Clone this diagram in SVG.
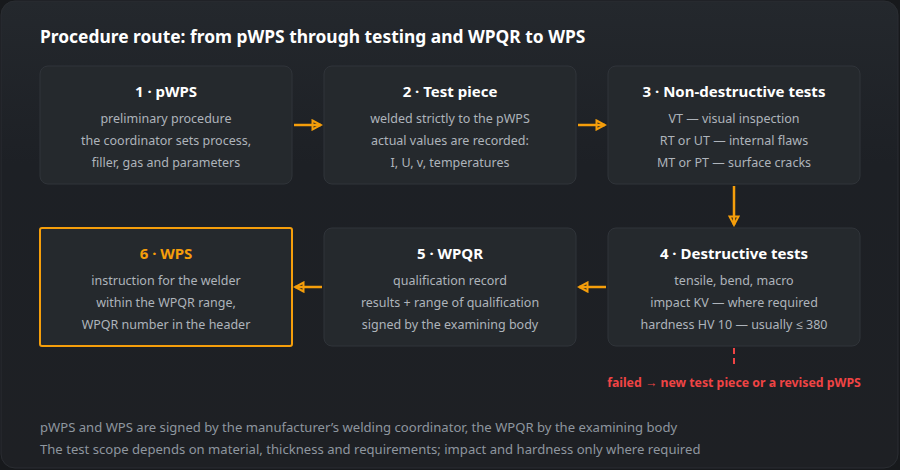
<svg xmlns="http://www.w3.org/2000/svg" width="900" height="470" viewBox="0 0 900 470">
<defs>
<linearGradient id="bg" x1="0" y1="0" x2="0" y2="1">
<stop offset="0" stop-color="#24282d"/>
<stop offset="0.35" stop-color="#1d2025"/>
<stop offset="1" stop-color="#1e2024"/>
</linearGradient>
<marker id="ah" viewBox="0 0 12 12" refX="10" refY="6" markerWidth="12" markerHeight="12" markerUnits="userSpaceOnUse" orient="auto">
<path d="M1.5,1.5 L10,6 L1.5,10.5 Z" fill="none" stroke="#f59e0b" stroke-width="2" stroke-linejoin="miter"/>
</marker>
<style>
.box{fill:#25292d;stroke:#30343a;stroke-width:1}
.hl{fill:#25292d;stroke:#f59e0b;stroke-width:2}
.t{font-family:"Noto Sans","Open Sans",sans-serif;font-size:15px;font-weight:bold;fill:#ffffff;text-anchor:middle}
.l{font-family:"Noto Sans","Open Sans",sans-serif;font-size:12.5px;fill:#aeb4bb;text-anchor:middle}
.c{stroke:#f59e0b;stroke-width:2.5;fill:none;marker-end:url(#ah)}
.f{font-family:"Noto Sans","Open Sans",sans-serif;font-size:13.1px;fill:#8e969f}
</style>
</defs>
<rect x="0" y="0" width="900" height="470" fill="#17191c"/>
<rect x="1" y="1" width="897" height="467" rx="14" fill="url(#bg)" stroke="#2a2d32"/>
<text x="40" y="43" font-family="Noto Sans, Open Sans, sans-serif" font-size="17.4" font-weight="bold" fill="#ffffff">Procedure route: from pWPS through testing and WPQR to WPS</text>
<g id="n1"><rect class="box" x="40" y="66" width="252" height="118" rx="8"/>
<text class="t" x="166" y="97">1 · pWPS</text>
<text class="l" x="166" y="123">preliminary procedure</text>
<text class="l" x="166" y="145">the coordinator sets process,</text>
<text class="l" x="166" y="167">filler, gas and parameters</text></g>
<g id="n2"><rect class="box" x="324" y="66" width="252" height="118" rx="8"/>
<text class="t" x="450" y="97">2 · Test piece</text>
<text class="l" x="450" y="123">welded strictly to the pWPS</text>
<text class="l" x="450" y="145">actual values are recorded:</text>
<text class="l" x="450" y="167">I, U, v, temperatures</text></g>
<g id="n3"><rect class="box" x="608" y="66" width="252" height="118" rx="8"/>
<text class="t" x="734" y="97">3 · Non-destructive tests</text>
<text class="l" x="734" y="123">VT — visual inspection</text>
<text class="l" x="734" y="145">RT or UT — internal flaws</text>
<text class="l" x="734" y="167">MT or PT — surface cracks</text></g>
<g id="n4"><rect class="box" x="608" y="228" width="252" height="118" rx="8"/>
<text class="t" x="734" y="259">4 · Destructive tests</text>
<text class="l" x="734" y="285">tensile, bend, macro</text>
<text class="l" x="734" y="307">impact KV — where required</text>
<text class="l" x="734" y="329">hardness HV 10 — usually ≤ 380</text></g>
<g id="n5"><rect class="box" x="324" y="228" width="252" height="118" rx="8"/>
<text class="t" x="450" y="259">5 · WPQR</text>
<text class="l" x="450" y="285">qualification record</text>
<text class="l" x="450" y="307">results + range of qualification</text>
<text class="l" x="450" y="329">signed by the examining body</text></g>
<g id="n6"><rect class="hl" x="40" y="228" width="252" height="118" rx="2"/>
<text class="t" x="166" y="259" style="fill:#f59e0b">6 · WPS</text>
<text class="l" x="166" y="285">instruction for the welder</text>
<text class="l" x="166" y="307">within the WPQR range,</text>
<text class="l" x="166" y="329">WPQR number in the header</text></g>
<g id="connectors">
<line class="c" x1="294" y1="125" x2="321" y2="125"/>
<line class="c" x1="578" y1="125" x2="605" y2="125"/>
<line class="c" x1="734" y1="186" x2="734" y2="225"/>
<line class="c" x1="606" y1="287" x2="579" y2="287"/>
<line class="c" x1="322" y1="287" x2="295" y2="287"/>
<line x1="734" y1="348" x2="734" y2="367" stroke="#ef4444" stroke-width="2" stroke-dasharray="6,4"/>
</g>
<text x="734" y="387" text-anchor="middle" font-family="Noto Sans, Open Sans, sans-serif" font-size="12.3" font-weight="bold" fill="#ef4444">failed → new test piece or a revised pWPS</text>
<text class="f" x="40" y="432">pWPS and WPS are signed by the manufacturer’s welding coordinator, the WPQR by the examining body</text>
<text class="f" x="40" y="454">The test scope depends on material, thickness and requirements; impact and hardness only where required</text>
</svg>
